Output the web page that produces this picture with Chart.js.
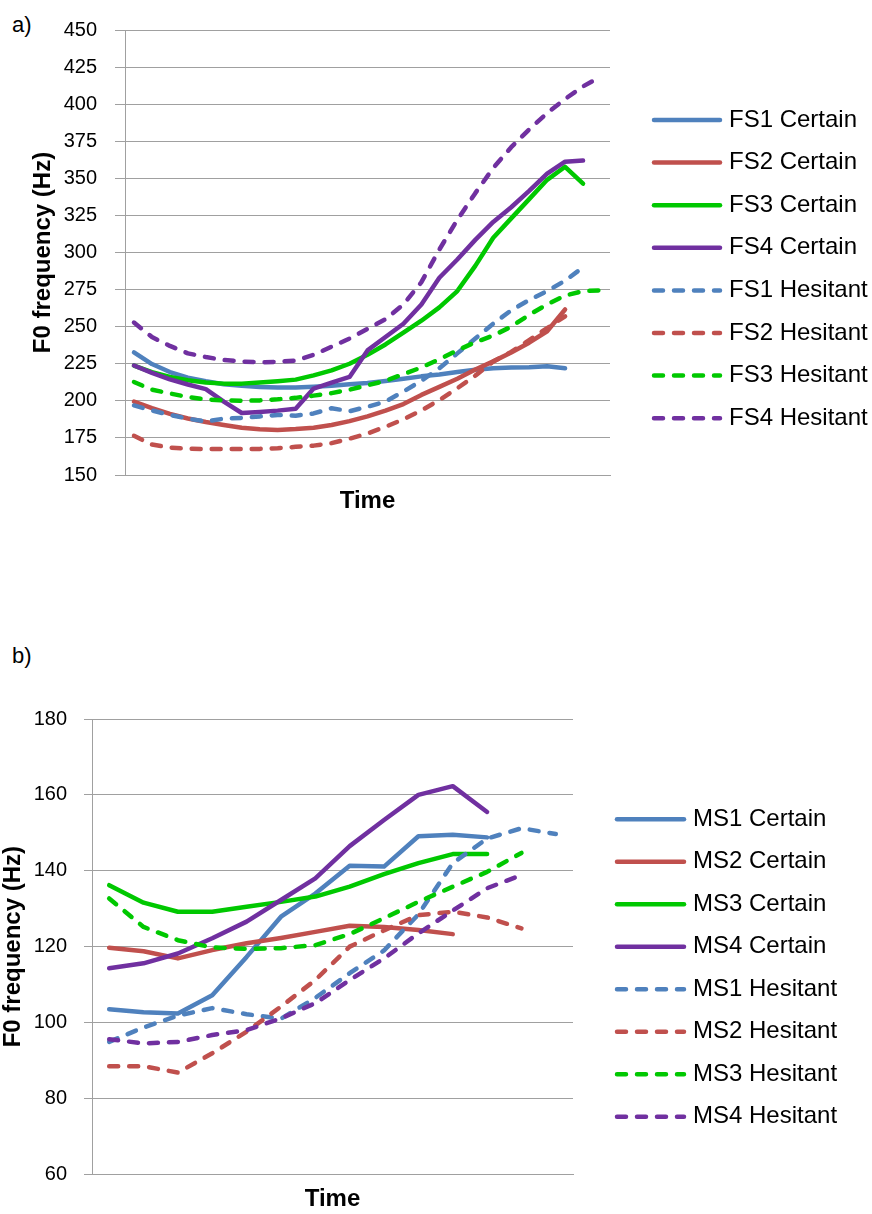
<!DOCTYPE html>
<html>
<head>
<meta charset="utf-8">
<script src="https://cdn.jsdelivr.net/npm/chart.js@4.4.0/dist/chart.umd.min.js"></script>
<style>
  html, body { margin: 0; padding: 0; background: #fff; }
  body { width: 872px; height: 1214px; position: relative; overflow: hidden; font-family: "Liberation Sans", Arial, sans-serif; }
  canvas { position: absolute; left: 0; }
  #chartA { top: 0; }
  #chartB { top: 600px; }
  .tag { position: absolute; left: 12px; font-size: 22px; line-height: 22px; color: #000; }
</style>
</head>
<body>
<div class="tag" style="top:14px">a)</div>
<div class="tag" style="top:645px">b)</div>
<canvas id="chartA" width="872" height="520"></canvas>
<canvas id="chartB" width="872" height="614"></canvas>
<script>
// ====== DATA: a) female speakers, 27 time steps ======
const timeA = [1, 2, 3, 4, 5, 6, 7, 8, 9, 10, 11, 12, 13, 14, 15, 16, 17, 18, 19, 20, 21, 22, 23, 24, 25, 26, 27];
const namesA = ["FS1 Certain", "FS2 Certain", "FS3 Certain", "FS4 Certain", "FS1 Hesitant", "FS2 Hesitant", "FS3 Hesitant", "FS4 Hesitant"];

const fs1Certain = [232.6, 224.8, 219.4, 215.6, 213.2, 211.2, 210.1, 209.4, 209.0, 209.0, 209.5, 210.1, 211.2, 212.0, 213.4, 214.9, 216.5, 217.8, 219.4, 220.9, 222.0, 222.4, 222.6, 223.3, 222.0];
const fs2Certain = [199.5, 195.1, 191.2, 188.1, 185.7, 183.7, 181.9, 180.8, 180.4, 181.0, 181.9, 183.7, 186.3, 189.5, 193.4, 197.8, 204.0, 209.4, 214.9, 221.1, 226.6, 232.6, 239.2, 246.9, 261.6];
const fs3Certain = [223.8, 219.4, 216.1, 213.9, 212.3, 211.6, 211.6, 212.3, 213.2, 214.3, 217.2, 220.5, 225.0, 231.0, 238.0, 246.0, 254.0, 263.0, 274.0, 291.0, 310.0, 323.0, 336.0, 349.0, 357.8, 346.4];
const fs4Certain = [223.8, 218.9, 214.5, 211.0, 207.9, 199.5, 191.8, 192.5, 193.4, 194.7, 208.3, 212.3, 216.1, 234.0, 243.0, 252.0, 265.0, 283.0, 295.3, 308.5, 320.6, 330.5, 341.5, 353.2, 361.2, 362.0];
const fs1Hesitant = [196.9, 193.5, 190.5, 188.0, 186.0, 188.0, 188.5, 189.5, 190.5, 190.0, 191.5, 195.0, 193.0, 196.0, 199.5, 206.3, 213.5, 222.0, 232.0, 242.0, 252.0, 261.0, 268.0, 274.0, 281.0, 290.0];
const fs2Hesitant = [176.4, 170.5, 168.5, 167.7, 167.5, 167.5, 167.5, 167.6, 168.0, 169.0, 169.8, 171.5, 174.5, 178.0, 182.5, 187.5, 193.5, 200.5, 208.5, 217.0, 226.5, 233.0, 241.0, 249.0, 257.0];
const fs3Hesitant = [212.7, 207.5, 205.0, 202.5, 201.0, 200.3, 200.0, 200.3, 201.0, 202.0, 203.5, 205.2, 207.5, 210.5, 213.5, 218.0, 222.5, 228.0, 234.0, 239.5, 244.0, 250.0, 258.0, 265.0, 271.0, 274.0, 274.5];
const fs4Hesitant = [252.8, 243.0, 237.0, 232.0, 229.5, 227.5, 226.5, 226.0, 226.3, 227.1, 231.0, 236.5, 242.0, 248.5, 255.0, 265.0, 280.0, 302.0, 322.0, 340.0, 357.0, 371.0, 383.0, 394.0, 403.5, 412.0, 418.6];

// ====== DATA: b) male speakers, 14 time steps ======
const timeB = [1, 2, 3, 4, 5, 6, 7, 8, 9, 10, 11, 12, 13, 14];
const namesB = ["MS1 Certain", "MS2 Certain", "MS3 Certain", "MS4 Certain", "MS1 Hesitant", "MS2 Hesitant", "MS3 Hesitant", "MS4 Hesitant"];

const ms1Certain = [103.5, 102.7, 102.4, 107.2, 117.3, 127.9, 134.0, 141.3, 141.1, 149.1, 149.5, 148.8];
const ms2Certain = [119.7, 118.8, 116.9, 119.1, 120.9, 122.3, 123.9, 125.5, 125.2, 124.4, 123.3];
const ms3Certain = [136.2, 131.6, 129.2, 129.2, 130.5, 131.8, 133.2, 135.8, 139.1, 142.0, 144.4, 144.4];
const ms4Certain = [114.3, 115.6, 118.2, 122.2, 126.6, 132.3, 138.0, 146.5, 153.4, 160.0, 162.3, 155.5];
const ms1Hesitant = [94.9, 98.7, 101.8, 103.8, 102.2, 101.0, 106.5, 113.0, 119.0, 128.5, 142.0, 148.5, 151.2, 149.7];
const ms2Hesitant = [88.5, 88.5, 86.8, 91.9, 97.6, 104.2, 111.2, 120.0, 124.3, 128.3, 129.2, 127.7, 124.8];
const ms3Hesitant = [132.7, 125.2, 121.7, 119.8, 119.4, 119.6, 120.4, 123.3, 127.5, 131.8, 135.8, 139.7, 144.7];
const ms4Hesitant = [95.6, 94.5, 94.9, 96.7, 98.0, 101.1, 105.1, 111.2, 116.9, 123.5, 129.5, 135.4, 138.9];

// ====== STYLE ======
const FONT = "'Liberation Sans', Arial, sans-serif";
const COLORS = ["#4f81bd", "#c0504d", "#00c800", "#7030a0"];
const GRID = "#a0a0a0";

function makeDatasets(names, values) {
  return values.map((data, i) => ({
    label: names[i],
    data: data,
    borderColor: COLORS[i % 4],
    backgroundColor: COLORS[i % 4],
    borderWidth: 4.5,
    borderDash: i >= 4 ? [9, 11] : [],
    borderCapStyle: "round",
    borderJoinStyle: "round",
    pointRadius: 0,
    tension: 0,
    order: values.length - i,
  }));
}

// legend drawn on the right, same look as the Excel one
const lineLegend = {
  id: "lineLegend",
  afterDraw(chart, args, opts) {
    const ctx = chart.ctx;
    ctx.save();
    ctx.font = opts.size + "px " + FONT;
    ctx.textBaseline = "middle";
    ctx.textAlign = "left";
    ctx.fillStyle = "#000";
    chart.data.datasets.forEach((ds, i) => {
      const y = opts.top + i * opts.gap;
      ctx.strokeStyle = ds.borderColor;
      ctx.lineWidth = ds.borderWidth;
      ctx.lineCap = "round";
      ctx.setLineDash(ds.borderDash);
      ctx.beginPath();
      ctx.moveTo(opts.x1, y);
      ctx.lineTo(opts.x2, y);
      ctx.stroke();
      ctx.setLineDash([]);
      ctx.fillText(ds.label, opts.textX, y);
    });
    ctx.restore();
  },
};

function makeChart(el, labels, datasets, cfg) {
  return new Chart(el, {
    type: "line",
    data: { labels: labels, datasets: datasets },
    plugins: [lineLegend],
    options: {
      responsive: false,
      animation: false,
      events: [],
      layout: { padding: cfg.padding },
      plugins: {
        legend: { display: false },
        tooltip: { enabled: false },
        lineLegend: cfg.legend,
      },
      scales: {
        x: {
          offset: true,
          ticks: { display: false },
          grid: { display: false, drawTicks: false },
          border: { color: GRID, width: 1 },
          title: {
            display: true,
            text: "Time",
            color: "#000",
            font: { family: FONT, size: 24, weight: "bold", lineHeight: 1 },
            padding: { top: 0, bottom: cfg.xTitlePad },
          },
          afterFit: (s) => { s.height = cfg.xHeight; },
        },
        y: {
          min: cfg.min,
          max: cfg.max,
          ticks: { stepSize: cfg.step, color: "#000", font: { family: FONT, size: 20 }, padding: cfg.tickPad },
          grid: { color: GRID, lineWidth: 1, tickLength: cfg.tickLen },
          border: { color: GRID, width: 1 },
          title: {
            display: true,
            text: "F0 frequency (Hz)",
            color: "#000",
            font: { family: FONT, size: 24, weight: "bold", lineHeight: 1 },
            padding: { top: cfg.yTitlePad, bottom: 0 },
          },
          afterFit: (s) => { s.width = cfg.yWidth; },
        },
      },
    },
  });
}

// ====== a) ======
makeChart(
  document.getElementById("chartA"),
  timeA,
  makeDatasets(namesA, [fs1Certain, fs2Certain, fs3Certain, fs4Certain, fs1Hesitant, fs2Hesitant, fs3Hesitant, fs4Hesitant]),
  {
    padding: { left: 0, top: 21, right: 262, bottom: 5 },
    min: 150, max: 450, step: 25,
    yWidth: 125, tickLen: 10, tickPad: 18, yTitlePad: 31,
    xHeight: 40, xTitlePad: 2,
    legend: { top: 120, gap: 42.6, x1: 654, x2: 720, textX: 729, size: 24 },
  }
);

// ====== b) ======
makeChart(
  document.getElementById("chartB"),
  timeB,
  makeDatasets(namesB, [ms1Certain, ms2Certain, ms3Certain, ms4Certain, ms1Hesitant, ms2Hesitant, ms3Hesitant, ms4Hesitant]),
  {
    padding: { left: 0, top: 119, right: 299, bottom: 0 },
    min: 60, max: 180, step: 20,
    yWidth: 92, tickLen: 8, tickPad: 17, yTitlePad: 1,
    xHeight: 39.7, xTitlePad: 3,
    legend: { top: 219.3, gap: 42.5, x1: 617, x2: 684, textX: 693, size: 24 },
  }
);
</script>
</body>
</html>
